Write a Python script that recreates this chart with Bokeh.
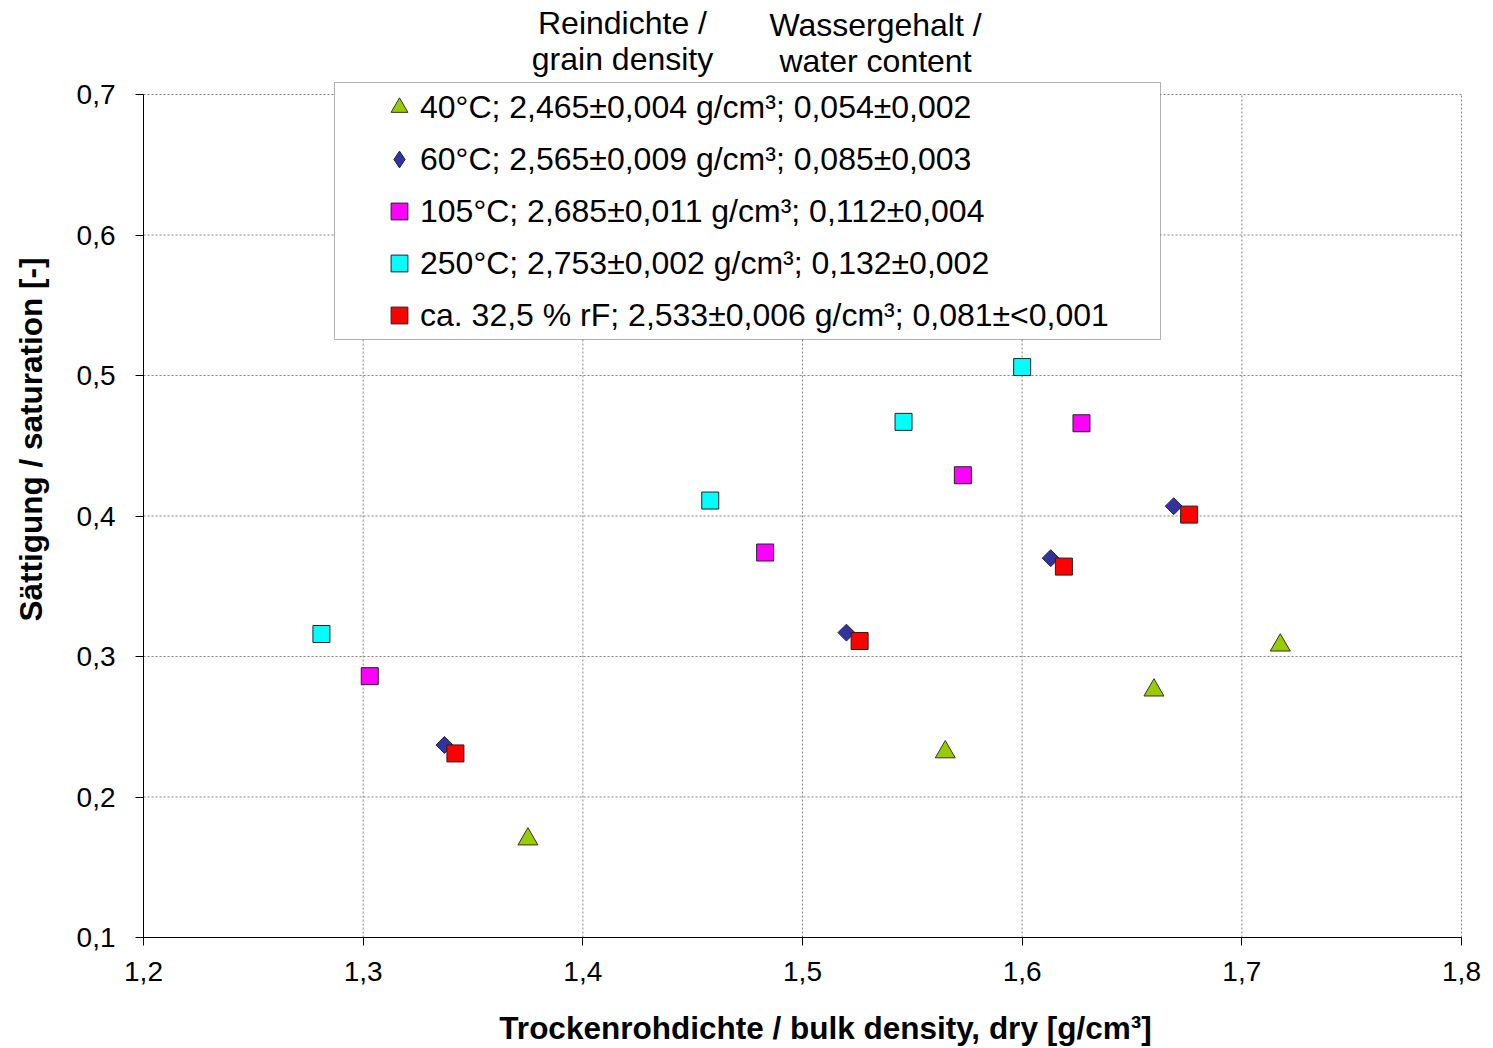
import numpy as np
from bokeh.plotting import figure
from bokeh.models import (Range1d, FixedTicker, CustomJSTickFormatter, Legend,
                          LegendItem, BoxAnnotation, Label, LinearAxis)
from bokeh.embed import file_html
from bokeh.resources import INLINE

# ---- data ----
x_40 = [1.375, 1.565, 1.660, 1.7175]
y_40 = [0.170, 0.232, 0.276, 0.308]
x_60 = [1.337, 1.520, 1.613, 1.669]
y_60 = [0.237, 0.317, 0.370, 0.407]
x_105 = [1.303, 1.483, 1.573, 1.627]
y_105 = [0.286, 0.374, 0.429, 0.466]
x_250 = [1.281, 1.458, 1.546, 1.600]
y_250 = [0.316, 0.411, 0.467, 0.506]
x_rf = [1.342, 1.526, 1.619, 1.676]
y_rf = [0.231, 0.311, 0.364, 0.401]

labels = [
    "40°C; 2,465±0,004 g/cm³; 0,054±0,002",
    "60°C; 2,565±0,009 g/cm³; 0,085±0,003",
    "105°C; 2,685±0,011 g/cm³; 0,112±0,004",
    "250°C; 2,753±0,002 g/cm³; 0,132±0,002",
    "ca. 32,5 % rF; 2,533±0,006 g/cm³; 0,081±<0,001",
]
x_ticks = [1.2, 1.3, 1.4, 1.5, 1.6, 1.7, 1.8]
y_ticks = [0.1, 0.2, 0.3, 0.4, 0.5, 0.6, 0.7]
x_title = "Trockenrohdichte / bulk density, dry [g/cm³]"
y_title = "Sättigung / saturation [-]"
headings = [("Reindichte /", "grain density"), ("Wassergehalt /", "water content")]

FONT = "Liberation Sans"
W, H = 1493, 1048
X_MIN, X_MAX = 1.2, 1.8
Y_MIN, Y_MAX = 0.1, 0.7
# pixel geometry of the value area inside the canvas
LEFT, RIGHT, TOP, BOTTOM = 143, 1461, 94, 937
PX_X = (X_MAX - X_MIN) / (RIGHT - LEFT)
PX_Y = (Y_MAX - Y_MIN) / (BOTTOM - TOP)
X0 = X_MIN - LEFT * PX_X
X1 = X0 + W * PX_X
Y1 = Y_MAX + TOP * PX_Y
Y0 = Y1 - H * PX_Y


def dx(px):
    return X0 + px * PX_X


def dy(py):
    return Y1 - py * PX_Y


p = figure(frame_width=W, frame_height=H, min_border=0,
           x_range=Range1d(X0, X1), y_range=Range1d(Y0, Y1),
           x_axis_location=None, y_axis_location=None,
           output_backend="svg", toolbar_location=None,
           background_fill_color="white", border_fill_color="white")
p.outline_line_color = None
for g in p.grid:
    g.visible = False

fmt = CustomJSTickFormatter(code="return tick.toFixed(1).replace('.', ',');")
xaxis = LinearAxis(fixed_location=Y_MIN, bounds=(X_MIN, X_MAX))
yaxis = LinearAxis(fixed_location=X_MIN, bounds=(Y_MIN, Y_MAX))
for ax, ticks in ((xaxis, x_ticks), (yaxis, y_ticks)):
    ax.ticker = FixedTicker(ticks=ticks)
    ax.formatter = fmt
    ax.major_tick_in = 0
    ax.major_tick_out = 8
    ax.minor_tick_line_color = None
    ax.axis_line_color = "black"
    ax.major_tick_line_color = "black"
    ax.major_label_text_font = FONT
    ax.major_label_text_font_size = "28px"
    ax.major_label_text_color = "black"
xaxis.major_label_standoff = 16
yaxis.major_label_standoff = 20

GRID_COLOR = "#808080"
GRID_DASH = "2 2"
# grid lines limited to the value area
p.segment(x0=x_ticks, y0=[Y_MIN] * len(x_ticks), x1=x_ticks,
          y1=[Y_MAX] * len(x_ticks), line_color=GRID_COLOR,
          line_dash=GRID_DASH, line_width=1, level="underlay")
p.segment(x0=[X_MIN] * len(y_ticks), y0=y_ticks, x1=[X_MAX] * len(y_ticks),
          y1=y_ticks, line_color=GRID_COLOR,
          line_dash=GRID_DASH, line_width=1, level="underlay")
p.add_layout(xaxis, "below")
p.add_layout(yaxis, "left")

r40 = p.scatter(x_40, y_40, marker="triangle", size=20, fill_color="#99CC00",
                line_color="#333333", line_width=1)
r60 = p.scatter(x_60, y_60, marker="square", size=12, angle=np.pi / 4,
                fill_color="#333399", line_color="#222255", line_width=1)
r105 = p.scatter(x_105, y_105, marker="square", size=17, fill_color="#FF00FF",
                 line_color="#222222", line_width=1)
r250 = p.scatter(x_250, y_250, marker="square", size=17, fill_color="#00FFFF",
                 line_color="#222222", line_width=1)
rrf = p.scatter(x_rf, y_rf, marker="square", size=17, fill_color="#FF0000",
                line_color="#222222", line_width=1)
# legend symbol for the 60 °C series (draws no point in the plot)
r60_key = p.scatter([np.nan], [np.nan], marker="diamond", size=18,
                    fill_color="#333399", line_color="#222255", line_width=1)

# legend frame
box = BoxAnnotation(left=dx(334), right=dx(1160), top=dy(82), bottom=dy(339),
                    fill_color="white", fill_alpha=1.0,
                    line_color="black", line_width=1)
p.add_layout(box)

legend = Legend(items=[LegendItem(label=l, renderers=[r])
                       for l, r in zip(labels, [r40, r60_key, r105, r250, rrf])],
                location=(378, 712), padding=0, spacing=10,
                glyph_width=42, glyph_height=42, label_standoff=0,
                label_text_font=FONT, label_text_font_size="32px",
                label_text_color="black",
                background_fill_alpha=0, border_line_color=None)
p.add_layout(legend)

for (top_txt, bot_txt), xpx, ypx in zip(headings, (622, 875), (22, 24)):
    for txt, yy in ((top_txt, ypx), (bot_txt, ypx + 36)):
        p.add_layout(Label(x=dx(xpx), y=dy(yy), text=txt, text_align="center",
                           text_baseline="middle", text_font=FONT,
                           text_font_size="32px", text_color="black"))

p.add_layout(Label(x=dx(825), y=dy(1027), text=x_title, text_align="center",
                   text_baseline="middle", text_font=FONT,
                   text_font_size="31.5px", text_font_style="bold",
                   text_color="black"))
p.add_layout(Label(x=dx(30), y=dy(439), text=y_title, text_align="center",
                   text_baseline="middle", angle=np.pi / 2, text_font=FONT,
                   text_font_size="31.5px", text_font_style="bold",
                   text_color="black"))

open("out.html", "w").write(file_html(p, INLINE))
